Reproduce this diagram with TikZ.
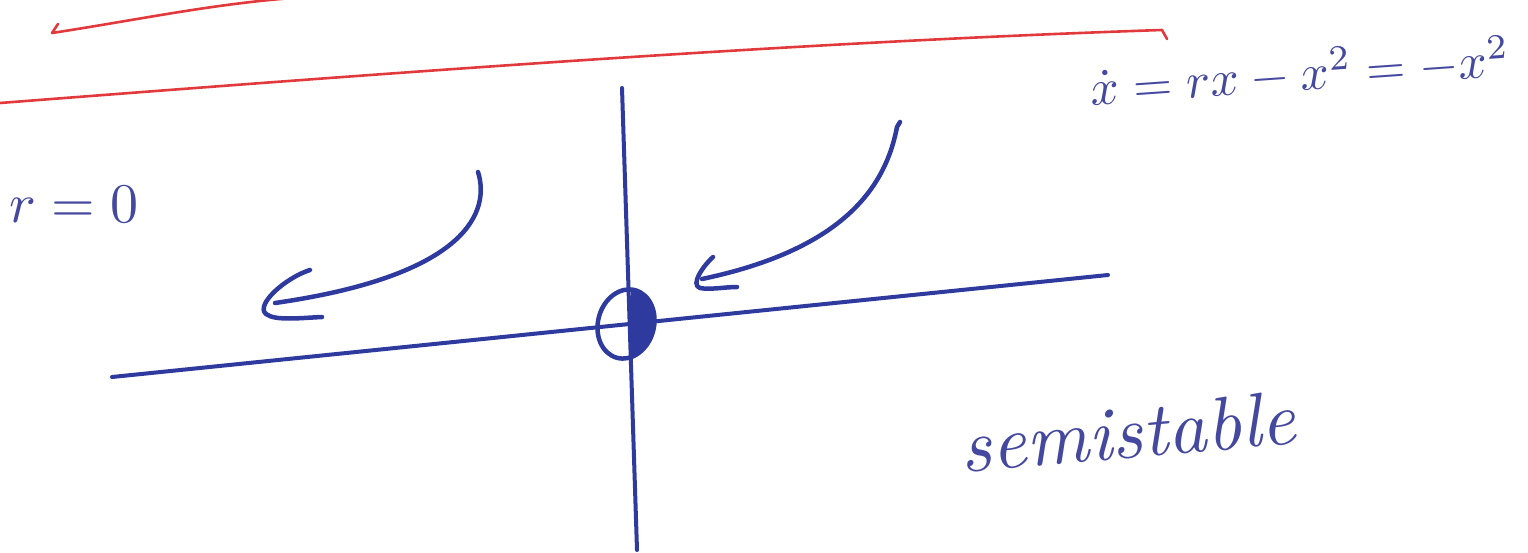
\documentclass[tikz,border=0pt]{standalone}
\usepackage{amsmath}
\usepackage{graphicx}
\begin{document}
\begin{tikzpicture}[x=1pt,y=-1pt,
  pen/.style={draw=inkline,line width=4.5pt,line cap=round,line join=round},
  redpen/.style={draw=redink,line width=2.6pt,line cap=round,line join=round},
  hand/.style={text=ink,inner sep=0pt}]
\definecolor{ink}{HTML}{44489E}
\definecolor{inkline}{HTML}{2E3A9E}
\definecolor{redink}{HTML}{E23A3C}
\useasboundingbox (0,0) rectangle (1528,553);
% red strokes
\coordinate (ra) at (52,33);
\coordinate (rb) at (335,-4);
\coordinate (rc) at (0,103);
\coordinate (rd) at (1162,30);
\coordinate (re) at (1167,39);
\draw[redpen] (ra) -- (58,24) (ra) .. controls (150,18) and (240,-2) .. (rb);
\draw[redpen] (rc) .. controls (400,72) and (800,42) .. (rd) -- (re);
% axes
\coordinate (hl) at (112,377);
\coordinate (hr) at (1108,275);
\coordinate (vt) at (622,88);
\coordinate (vb) at (637,550);
\draw[pen,line width=4pt] (hl) -- (hr);
\draw[pen,line width=4pt] (vt) -- (vb);
% semistable fixed point
\coordinate (fp) at (626,324);
\begin{scope}
\clip (631,250) rectangle (720,400);
\fill[inkline,rotate around={-15:(fp)}] (fp) ellipse [x radius=28, y radius=35];
\end{scope}
\draw[pen,rotate around={-15:(fp)}] (fp) ellipse [x radius=28, y radius=35];
% left flow arrow
\coordinate (la) at (478,172);
\coordinate (lb) at (275,303);
\coordinate (lh1) at (310,270);
\coordinate (lh2) at (322,317);
\draw[pen] (la) .. controls (490,210) and (470,275) .. (lb);
\draw[pen] (lh1) .. controls (285,278) and (255,305) .. (266,314) .. controls (275,321) and (300,318) .. (lh2);
% right flow arrow
\coordinate (ra1) at (900,122);
\coordinate (rb1) at (702,279);
\coordinate (rh1) at (713,257);
\coordinate (rh2) at (737,287);
\draw[pen] (ra1) -- (897,127) .. controls (885,190) and (840,250) .. (rb1);
\draw[pen] (rh1) .. controls (703,266) and (690,285) .. (700,288) .. controls (710,290) and (725,287) .. (rh2);
% texts
\node[hand] (rzero) at (74,204) {\scalebox{5.6}{$r=0$}};
\node[hand,rotate=4] (eq) at (1300,72) {\scalebox{5.05}{$\dot{x}=rx-x^{2}=-x^{2}$}};
\node[hand,rotate=5] (semi) at (1128,432) {\scalebox{7.6}{\itshape semistable}};
\end{tikzpicture}
\end{document}
